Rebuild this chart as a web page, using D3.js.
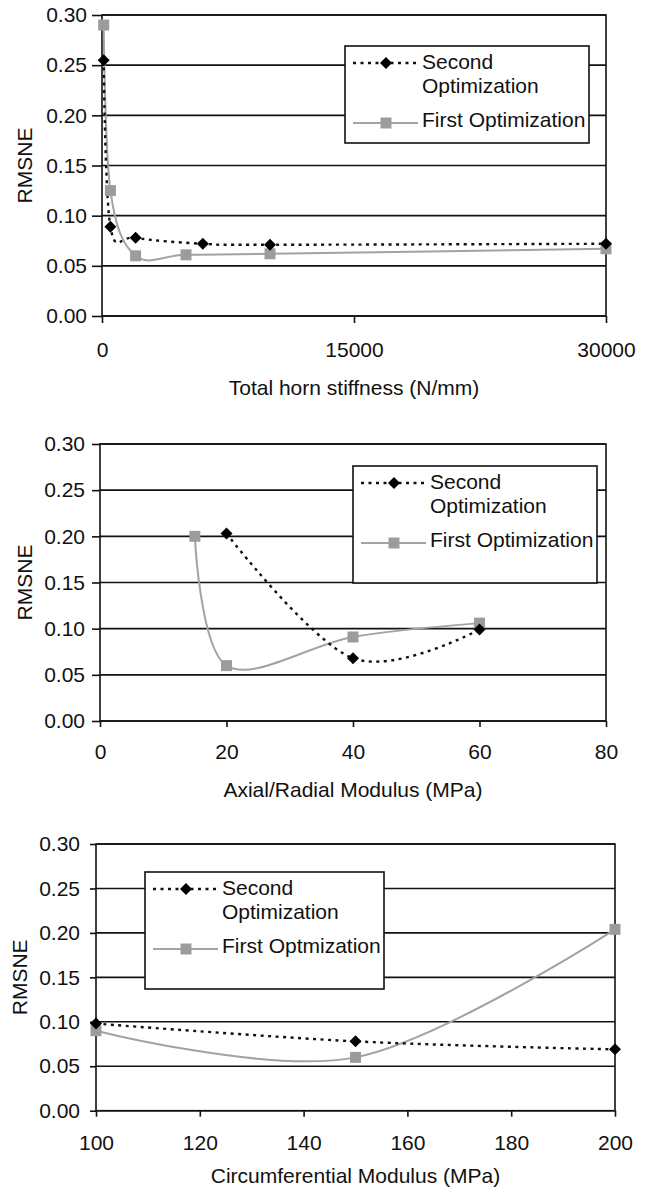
<!DOCTYPE html>
<html>
<head>
<meta charset="utf-8">
<script src="https://cdn.jsdelivr.net/npm/d3@7"></script>
<style>
  body { margin: 0; background: #fff; }
  svg text { font-family: Arial, "Liberation Sans", Helvetica, sans-serif; fill: #111; }
</style>
</head>
<body>
<div id="display"></div>
<script>

// y axis shared by the three panels
const yTicks = [0, 0.05, 0.10, 0.15, 0.20, 0.25, 0.30]
const yLabel = "RMSNE"

// panel 1: total horn stiffness
const stiffTicks = [0, 15000, 30000]
const stiffSecondX = [100, 500, 2000, 6000, 10000, 30000]
const stiffSecondY = [0.255, 0.089, 0.078, 0.072, 0.071, 0.072]
const stiffFirstX = [100, 500, 2000, 5000, 10000, 30000]
const stiffFirstY = [0.290, 0.125, 0.060, 0.061, 0.062, 0.067]
const stiffLegend = ["Second", "Optimization", "First Optimization"]

// panel 2: axial/radial modulus
const axialTicks = [0, 20, 40, 60, 80]
const axialSecondX = [20, 40, 60]
const axialSecondY = [0.203, 0.068, 0.099]
const axialFirstX = [15, 20, 40, 60]
const axialFirstY = [0.200, 0.060, 0.091, 0.106]
const axialLegend = ["Second", "Optimization", "First Optimization"]

// panel 3: circumferential modulus
const circTicks = [100, 120, 140, 160, 180, 200]
const circSecondX = [100, 150, 200]
const circSecondY = [0.098, 0.078, 0.069]
const circFirstX = [100, 150, 200]
const circFirstY = [0.090, 0.060, 0.204]
const circLegend = ["Second", "Optimization", "First Optmization"]

const fs = 21
const zip = (xs, ys) => xs.map((d, i) => [d, ys[i]])

function panel(svg, c)
{
  let x = d3.scaleLinear(c.xDomain, [c.left, c.right])
  let y = d3.scaleLinear([0, 0.30], [c.bottom, c.top])
  const g = svg.append("g")

  // horizontal grid
  g.append("g")
    .selectAll("line")
    .data(yTicks)
    .join("line")
      .attr("x1", c.left).attr("x2", c.right)
      .attr("y1", d => y(d)).attr("y2", d => y(d))
      .attr("stroke", "#111").attr("stroke-width", 1.6)

  g.append("rect")
      .attr("x", c.left).attr("y", c.top)
      .attr("width", c.right - c.left).attr("height", c.bottom - c.top)
      .attr("fill", "none").attr("stroke", "#111").attr("stroke-width", 1.6)

  g.append("g")
      .attr("transform", `translate(${c.left},0)`)
      .call(d3.axisLeft(y).tickValues(yTicks).tickFormat(d3.format(".2f"))
        .tickSize(c.yTickLen).tickPadding(c.yPad))
      .call(a => a.select(".domain").remove())
      .call(a => a.selectAll("line").attr("stroke", "#111").attr("stroke-width", 1.6))
      .call(a => a.selectAll("text").attr("font-size", fs).attr("font-family", null).attr("fill", "#111"))

  g.append("g")
      .attr("transform", `translate(0,${c.bottom})`)
      .call(d3.axisBottom(x).tickValues(c.xTicks).tickFormat(d3.format("d"))
        .tickSize(c.xTickLen).tickPadding(c.xPad))
      .call(a => a.select(".domain").remove())
      .call(a => a.selectAll("line").attr("stroke", "#111").attr("stroke-width", 1.6))
      .call(a => a.selectAll("text").attr("font-size", fs).attr("font-family", null).attr("fill", "#111"))

  g.append("text")
      .attr("transform", `translate(${c.yTitleX},${(c.top + c.bottom) / 2}) rotate(-90)`)
      .attr("text-anchor", "middle").attr("dy", "0.35em")
      .attr("font-size", fs)
      .text(yLabel)

  g.append("text")
      .attr("x", (c.left + c.right) / 2).attr("y", c.titleY)
      .attr("text-anchor", "middle").attr("font-size", fs)
      .text(c.title)

  const line = d3.line().x(d => x(d[0])).y(d => y(d[1])).curve(d3.curveCardinal.tension(0))

  g.append("path")
      .attr("d", line(zip(c.firstX, c.firstY)))
      .attr("fill", "none").attr("stroke", "#a3a3a3").attr("stroke-width", 2)

  g.append("path")
      .attr("d", line(zip(c.secondX, c.secondY)))
      .attr("fill", "none").attr("stroke", "#111").attr("stroke-width", 2.4)
      .attr("stroke-dasharray", "3,4.5")

  const square = d3.symbol(d3.symbolSquare, 121)
  const diamond = d3.symbol(d3.symbolSquare, 72)

  g.append("g")
    .selectAll("path")
    .data(zip(c.firstX, c.firstY))
    .join("path")
      .attr("transform", d => `translate(${x(d[0])},${y(d[1])})`)
      .attr("d", square).attr("fill", "#9c9c9c")

  g.append("g")
    .selectAll("path")
    .data(zip(c.secondX, c.secondY))
    .join("path")
      .attr("transform", d => `translate(${x(d[0])},${y(d[1])}) rotate(45)`)
      .attr("d", diamond).attr("fill", "#000")

  // legend
  const lg = g.append("g").attr("transform", `translate(${c.legend[0]},${c.legend[1]})`)
  lg.append("rect")
      .attr("width", c.legend[2]).attr("height", c.legend[3])
      .attr("fill", "#fff").attr("stroke", "#111").attr("stroke-width", 1.6)
  lg.append("line")
      .attr("x1", 8).attr("x2", 73).attr("y1", 17).attr("y2", 17)
      .attr("stroke", "#111").attr("stroke-width", 2.4).attr("stroke-dasharray", "3,4.5")
  lg.append("path").attr("transform", "translate(41,17) rotate(45)").attr("d", diamond)
  lg.append("line")
      .attr("x1", 8).attr("x2", 73).attr("y1", 77).attr("y2", 77)
      .attr("stroke", "#a3a3a3").attr("stroke-width", 2)
  lg.append("path").attr("transform", "translate(41,77)").attr("d", square).attr("fill", "#9c9c9c")
  lg.selectAll("text.lab")
    .data(c.legendText)
    .join("text")
      .attr("class", "lab")
      .attr("x", 77).attr("y", (d, i) => [23, 47, 81][i])
      .attr("font-size", fs)
      .text(d => d)
}

function chart(parentNode)
{
  let width = 645
  let height = 1188
  const svg = d3.create("svg")
      .attr("width", width).attr("height", height)
      .attr("viewBox", [0, 0, width, height])

  panel(svg, {
    left: 102, right: 606, top: 15, bottom: 316,
    xDomain: [0, 30000], xTicks: stiffTicks,
    yTickLen: 10, yPad: 5, xTickLen: 7, xPad: 19.5,
    yTitleX: 25, titleY: 395, title: "Total horn stiffness (N/mm)",
    firstX: stiffFirstX, firstY: stiffFirstY, secondX: stiffSecondX, secondY: stiffSecondY,
    legend: [345, 46, 244, 97], legendText: stiffLegend
  })

  panel(svg, {
    left: 100, right: 606, top: 444, bottom: 721,
    xDomain: [0, 80], xTicks: axialTicks,
    yTickLen: 8, yPad: 7, xTickLen: 6, xPad: 17,
    yTitleX: 24.5, titleY: 797, title: "Axial/Radial Modulus (MPa)",
    firstX: axialFirstX, firstY: axialFirstY, secondX: axialSecondX, secondY: axialSecondY,
    legend: [353, 466, 244, 117], legendText: axialLegend
  })

  panel(svg, {
    left: 96, right: 615, top: 844, bottom: 1110.7,
    xDomain: [100, 200], xTicks: circTicks,
    yTickLen: 6, yPad: 10, xTickLen: 6, xPad: 18.5,
    yTitleX: 19.5, titleY: 1183, title: "Circumferential Modulus (MPa)",
    firstX: circFirstX, firstY: circFirstY, secondX: circSecondX, secondY: circSecondY,
    legend: [145, 872, 239, 117], legendText: circLegend
  })

  parentNode.appendChild(svg.node())
}

document.addEventListener("DOMContentLoaded", () => {
  chart(document.getElementById("display"))
})
</script>
</body>
</html>
